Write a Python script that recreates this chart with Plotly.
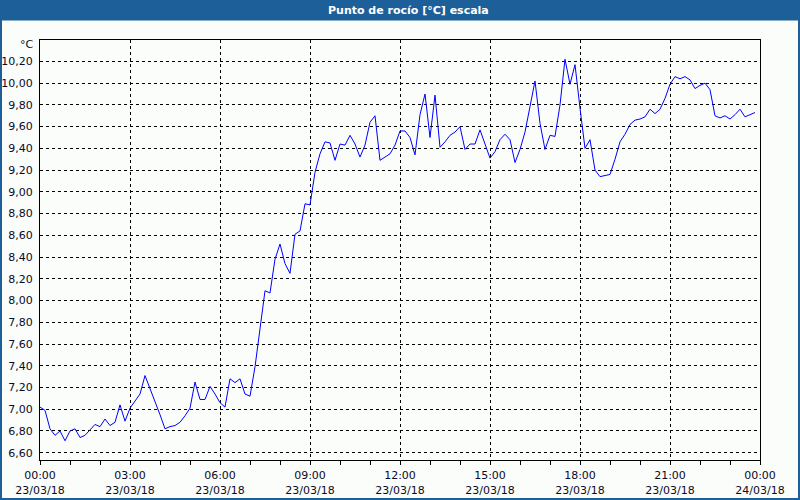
import plotly.graph_objects as go
import pandas as pd

start = "2018-03-23 00:00"
dew_point = [
    7.02, 6.99, 6.82, 6.76, 6.80, 6.71,
    6.80, 6.82, 6.74, 6.76, 6.81, 6.86,
    6.84, 6.91, 6.85, 6.88, 7.04, 6.89,
    7.01, 7.08, 7.14, 7.31, 7.19, 7.085,
    6.95, 6.82, 6.84, 6.85, 6.88, 6.94,
    7.01, 7.25, 7.09, 7.09, 7.21, 7.14,
    7.06, 7.02, 7.28, 7.245, 7.28, 7.14,
    7.12, 7.39, 7.75, 8.09, 8.07, 8.38,
    8.52, 8.34, 8.25, 8.61, 8.64, 8.89,
    8.88, 9.18, 9.35, 9.46, 9.45, 9.29,
    9.44, 9.43, 9.52, 9.44, 9.32, 9.43,
    9.64, 9.70, 9.29, 9.32, 9.35, 9.43,
    9.56, 9.56, 9.50, 9.34, 9.71, 9.90,
    9.50, 9.89, 9.41, 9.46, 9.52, 9.55,
    9.60, 9.39, 9.44, 9.44, 9.57, 9.44,
    9.31, 9.37, 9.48, 9.53, 9.48, 9.27,
    9.39, 9.55, 9.79, 10.02, 9.63, 9.39,
    9.52, 9.51, 9.80, 10.22, 9.99, 10.17,
    9.77, 9.40, 9.48, 9.20, 9.14, 9.15,
    9.16, 9.30, 9.46, 9.53, 9.62, 9.66,
    9.67, 9.69, 9.76, 9.72, 9.76, 9.86,
    9.99, 10.06, 10.04, 10.06, 10.03, 9.95,
    9.98, 10.00, 9.94, 9.70, 9.68, 9.70,
    9.67, 9.71, 9.76, 9.69, 9.71, 9.73,
]
times = pd.date_range(start, periods=len(dew_point), freq="10min")

title_text = "Punto de rocío [°C] escala"
unit_text = "°C"

fig = go.Figure()
fig.add_trace(go.Scatter(x=times, y=dew_point, mode="lines",
                         line=dict(color="#0000ff", width=1), hoverinfo="skip"))

W, H = 800, 500
L, R, T, B = 40, 40, 40, 40
pw, ph = W - L - R, H - T - B
def px_x(x):
    return (x - L) / pw
def px_y(y):
    return (H - B - y) / ph

tick_font = dict(family="DejaVu Sans", size=11, color="#0a0a28")
grid_dash = "3px,3px"

fig.update_layout(
    width=W, height=H,
    margin=dict(l=L, r=R, t=T, b=B, autoexpand=False),
    paper_bgcolor="#fbfdfb",
    plot_bgcolor="#fbfdfb",
    separators=",.",
    showlegend=False,
    xaxis=dict(
        type="date", automargin=False,
        range=["2018-03-23 00:00", "2018-03-24 00:00"],
        dtick=3 * 3600 * 1000,
        tick0="2018-03-23 00:00",
        tickformat="%H:%M<br>%d/%m/%y",
        ticks="outside", ticklen=4, tickcolor="black",
        ticklabelstandoff=1,
        minor=dict(dtick=3600 * 1000, ticks="outside", ticklen=4, tickcolor="black", showgrid=False),
        showgrid=True, gridcolor="black", gridwidth=1, griddash=grid_dash,
        showline=True, linecolor="black", linewidth=1, mirror=True,
        tickfont=tick_font, zeroline=False,
    ),
    yaxis=dict(
        automargin=False,
        range=[6.533, 10.397],
        dtick=0.2, tick0=6.6,
        tickformat=".2f",
        ticks="", ticklabelstandoff=4,
        showgrid=True, gridcolor="black", gridwidth=1, griddash=grid_dash,
        showline=True, linecolor="black", linewidth=1, mirror=True,
        tickfont=tick_font, zeroline=False,
    ),
    shapes=[
        dict(type="rect", xref="paper", yref="paper",
             x0=px_x(0), x1=px_x(800), y0=px_y(20.5), y1=px_y(0),
             fillcolor="#1c5f99", line=dict(width=0), layer="above"),
        dict(type="rect", xref="paper", yref="paper",
             x0=px_x(1), x1=px_x(799), y0=px_y(499), y1=px_y(1),
             fillcolor="rgba(0,0,0,0)", line=dict(color="#1c5f99", width=2), layer="above"),
    ],
    annotations=[
        dict(text="<b>" + title_text + "</b>", xref="paper", yref="paper",
             x=px_x(409), y=px_y(10.5), xanchor="center", yanchor="middle",
             showarrow=False, font=dict(family="DejaVu Sans", size=11, color="white")),
        dict(text=unit_text, xref="paper", yref="paper",
             x=px_x(36), y=px_y(45), xanchor="right", yanchor="middle",
             showarrow=False, font=tick_font),
    ],
)

fig.write_html("out.html")
